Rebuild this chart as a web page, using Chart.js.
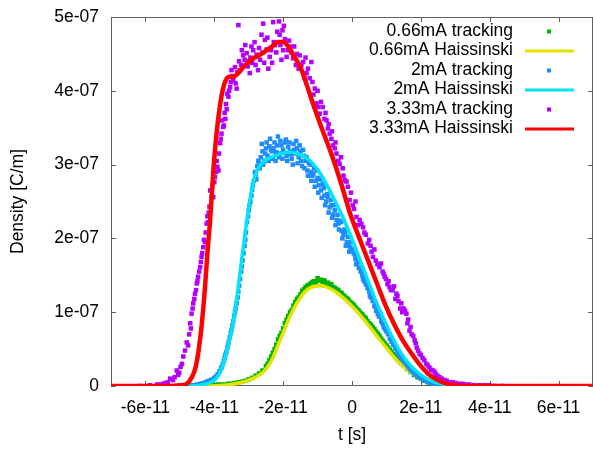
<!DOCTYPE html>
<html>
<head>
<meta charset="utf-8">
<script src="https://cdn.jsdelivr.net/npm/chart.js@4"></script>
<style>
  body { margin: 0; background: #fff; }
  #wrap { width: 593px; height: 449px; }
</style>
</head>
<body>
<div id="wrap"><canvas id="myChart" width="593" height="449"></canvas></div>
<script>
// t in units of 1e-11 s, density in units of 1e-07 C/m
var xTickVals = [-6, -4, -2, 0, 2, 4, 6];
var xTickLabels = ['-6e-11', '-4e-11', '-2e-11', '0', '2e-11', '4e-11', '6e-11'];
var yTickVals = [0, 1, 2, 3, 4, 5];
var yTickLabels = ['0', '1e-07', '2e-07', '3e-07', '4e-07', '5e-07'];

var seriesNames = ['0.66mA tracking', '0.66mA Haissinski', '2mA tracking',
                   '2mA Haissinski', '3.33mA tracking', '3.33mA Haissinski'];

// 0.66mA tracking points
var track066 = [
  [-4.6,0.00],[-4.5,0.00],[-4.4,0.01],[-4.3,0.00],[-4.2,0.01],[-4.1,0.01],[-4.0,0.01],
  [-3.9,0.02],[-3.8,0.02],[-3.7,0.02],[-3.6,0.03],[-3.5,0.03],[-3.4,0.04],[-3.3,0.05],
  [-3.2,0.06],[-3.1,0.07],[-3.0,0.09],[-2.9,0.11],[-2.8,0.14],[-2.7,0.17],[-2.6,0.21],
  [-2.5,0.27],[-2.45,0.30],[-2.4,0.35],[-2.35,0.40],[-2.3,0.45],[-2.25,0.50],[-2.2,0.56],
  [-2.15,0.63],[-2.1,0.68],[-2.05,0.72],[-2.0,0.78],[-1.95,0.85],[-1.9,0.90],[-1.85,0.95],
  [-1.8,1.00],[-1.75,1.03],[-1.7,1.09],[-1.65,1.14],[-1.6,1.18],[-1.55,1.20],[-1.5,1.24],
  [-1.45,1.29],[-1.4,1.31],[-1.35,1.34],[-1.3,1.36],[-1.25,1.37],[-1.2,1.39],[-1.15,1.41],
  [-1.1,1.42],[-1.05,1.40],[-1.0,1.46],[-0.95,1.43],[-0.9,1.44],[-0.85,1.41],[-0.8,1.43],
  [-0.75,1.38],[-0.7,1.40],[-0.65,1.36],[-0.6,1.38],[-0.55,1.34],[-0.5,1.33],[-0.45,1.31],
  [-0.4,1.30],[-0.35,1.27],[-0.3,1.26],[-0.25,1.23],[-0.2,1.21],[-0.15,1.19],[-0.1,1.17],
  [-0.05,1.14],[0.0,1.12],[0.05,1.10],[0.1,1.07],[0.15,1.04],[0.2,1.02],[0.25,0.99],
  [0.3,0.97],[0.35,0.94],[0.4,0.92],[0.45,0.88],[0.5,0.85],[0.55,0.83],[0.6,0.80],
  [0.65,0.77],[0.7,0.74],[0.75,0.71],[0.8,0.68],[0.85,0.64],[0.9,0.61],[0.95,0.58],
  [1.0,0.55],[1.05,0.52],[1.1,0.49],[1.15,0.46],[1.2,0.43],[1.25,0.41],[1.3,0.38],
  [1.35,0.35],[1.4,0.32],[1.45,0.30],[1.5,0.28],[1.6,0.23],[1.7,0.19],[1.8,0.15],
  [1.9,0.12],[2.0,0.10],[2.1,0.07],[2.2,0.05],[2.3,0.04],[2.4,0.03],[2.5,0.02],
  [2.6,0.01],[2.7,0.01],[2.8,0.00],[2.9,0.00]
];

// 0.66mA Haissinski solution
var hais066 = [
  [-7,0],[-4.1,0],[-3.5,0.02],[-3.2,0.05],[-3.0,0.08],[-2.8,0.12],[-2.6,0.18],[-2.45,0.26],
  [-2.3,0.38],[-2.15,0.55],[-2.0,0.72],[-1.85,0.89],[-1.7,1.04],[-1.55,1.16],[-1.4,1.26],
  [-1.25,1.32],[-1.1,1.35],[-0.95,1.36],[-0.8,1.35],[-0.6,1.31],[-0.4,1.25],[-0.2,1.17],
  [0.0,1.08],[0.2,0.98],[0.4,0.87],[0.6,0.75],[0.8,0.63],[1.0,0.52],[1.2,0.40],[1.4,0.30],
  [1.6,0.22],[1.8,0.16],[2.0,0.11],[2.2,0.06],[2.45,0.03],[2.8,0.005],[3.1,0],[7,0]
];

// 2mA tracking points
var track2 = [
  [-5.0,0.00],[-4.8,0.01],[-4.6,0.01],[-4.5,0.02],[-4.4,0.03],[-4.3,0.04],[-4.2,0.06],
  [-4.1,0.08],[-4.0,0.11],[-3.9,0.16],[-3.8,0.24],[-3.75,0.30],[-3.7,0.38],[-3.65,0.46],
  [-3.6,0.55],[-3.55,0.66],[-3.5,0.76],[-3.45,0.88],[-3.4,1.00],[-3.35,1.12],[-3.3,1.28],
  [-3.25,1.45],[-3.2,1.62],[-3.15,1.80],[-3.1,1.98],[-3.05,2.22],[-3.0,2.38],[-2.95,2.50],
  [-2.9,2.66],[-2.85,2.78],[-2.8,2.85],[-2.75,2.98],[-2.7,3.02],[-2.65,3.10],[-2.6,3.18],
  [-2.55,3.05],[-2.5,3.22],[-2.45,3.12],[-2.4,3.25],[-2.35,3.20],[-2.3,3.08],[-2.25,3.30],
  [-2.2,3.17],[-2.15,3.38],[-2.1,3.15],[-2.05,3.26],[-2.0,3.20],[-1.95,3.30],[-1.9,3.12],
  [-1.85,3.24],[-1.8,3.18],[-1.75,3.08],[-1.7,3.28],[-1.65,3.15],[-1.6,3.22],[-1.55,3.10],
  [-1.5,3.18],[-1.45,2.98],[-1.4,3.12],[-1.35,3.05],[-1.3,2.92],[-1.25,3.02],[-1.2,2.90],
  [-1.15,2.85],[-1.1,2.95],[-1.05,2.78],[-1.0,2.82],[-0.95,2.72],[-0.9,2.65],[-0.85,2.74],
  [-0.8,2.58],[-0.75,2.50],[-0.7,2.56],[-0.65,2.42],[-0.6,2.45],[-0.55,2.32],[-0.5,2.38],
  [-0.45,2.25],[-0.4,2.20],[-0.35,2.24],[-0.3,2.10],[-0.25,2.05],[-0.2,2.08],[-0.15,1.95],
  [-0.1,1.92],[-0.05,1.88],[0.0,1.85],[0.05,1.80],[0.1,1.72],[0.15,1.66],[0.2,1.60],
  [0.25,1.55],[0.3,1.50],[0.35,1.42],[0.4,1.38],[0.45,1.33],[0.5,1.28],[0.55,1.20],
  [0.6,1.15],[0.65,1.08],[0.7,1.02],[0.75,0.98],[0.8,0.94],[0.85,0.88],[0.9,0.84],
  [0.95,0.78],[1.0,0.74],[1.1,0.64],[1.2,0.56],[1.3,0.48],[1.4,0.40],[1.5,0.34],
  [1.6,0.28],[1.7,0.22],[1.8,0.18],[1.9,0.14],[2.0,0.11],[2.1,0.08],[2.2,0.06],
  [2.3,0.04],[2.4,0.03],[2.5,0.02],[2.6,0.01],[2.8,0.01],[3.0,0.00],[3.2,0.00],
  [-4.9,0.00],[-4.7,0.01],[-4.35,0.03],[-4.25,0.05],[-4.15,0.07],[-4.05,0.09],[-3.95,0.13],
  [-3.85,0.20],[-3.78,0.26],[-3.72,0.34],[-3.68,0.42],[-3.62,0.52],[-3.58,0.60],[-3.52,0.72],
  [-3.48,0.82],[-3.42,0.95],[-3.38,1.05],[-3.32,1.20],[-3.28,1.36],[-3.22,1.55],[-3.18,1.70],
  [-3.12,1.90],[-3.08,2.08],[-3.02,2.30],[-2.98,2.45],[-2.92,2.58],[-2.88,2.72],[-2.82,2.90],
  [-2.78,2.80],[-2.72,3.05],[-2.68,2.95],[-2.62,3.28],[-2.58,3.00],[-2.52,3.15],[-2.48,3.30],
  [-2.42,3.05],[-2.38,3.35],[-2.32,3.18],[-2.28,3.22],[-2.22,3.05],[-2.18,3.26],[-2.12,3.10],
  [-2.08,3.32],[-2.02,3.08],[-1.98,3.16],[-1.92,3.34],[-1.88,3.05],[-1.82,3.30],[-1.78,3.14],
  [-1.72,3.00],[-1.68,3.20],[-1.62,3.32],[-1.58,3.02],[-1.52,3.26],[-1.48,3.05],[-1.42,3.20],
  [-1.38,2.95],[-1.32,3.10],[-1.28,2.85],[-1.22,3.00],[-1.18,2.78],[-1.12,2.88],[-1.08,2.70],
  [-1.02,2.92],[-0.98,2.62],[-0.92,2.80],[-0.88,2.55],[-0.82,2.68],[-0.78,2.45],[-0.72,2.60],
  [-0.68,2.35],[-0.62,2.52],[-0.58,2.28],[-0.52,2.45],[-0.48,2.18],[-0.42,2.32],[-0.38,2.12],
  [-0.32,2.22],[-0.28,2.00],[-0.22,2.12],[-0.18,1.90],[-0.12,2.02],[-0.08,1.82],[-0.02,1.95],
  [0.08,1.78],[0.12,1.65],[0.18,1.68],[0.28,1.56],[0.32,1.45],[0.38,1.46],[0.48,1.32],
  [0.52,1.22],[0.58,1.25],[0.68,1.10],[0.72,1.05],[0.78,0.95],[0.88,0.86],[0.92,0.80],
  [0.98,0.76],[1.05,0.70],[1.15,0.60],[1.25,0.52],[1.35,0.44],[1.45,0.37],[1.55,0.31],
  [1.65,0.25],[1.75,0.20],[1.85,0.16],[1.95,0.12],[2.05,0.10],[2.15,0.07],[2.25,0.05],
  [2.35,0.04],[2.45,0.02],[2.7,0.01],[2.9,0.01],[3.1,0.00]
];

// 2mA Haissinski solution
var hais2 = [
  [-7,0],[-4.6,0],[-4.3,0.02],[-4.1,0.05],[-3.95,0.10],[-3.82,0.20],[-3.72,0.33],[-3.62,0.50],
  [-3.52,0.70],[-3.42,0.95],[-3.32,1.28],[-3.22,1.65],[-3.12,2.02],[-3.02,2.35],[-2.92,2.64],
  [-2.82,2.84],[-2.7,2.97],[-2.55,3.05],[-2.35,3.10],[-2.1,3.14],[-1.85,3.17],[-1.6,3.15],
  [-1.35,3.10],[-1.15,3.02],[-0.95,2.90],[-0.75,2.74],[-0.55,2.56],[-0.3,2.32],[-0.07,2.07],
  [0.2,1.75],[0.42,1.48],[0.65,1.20],[0.9,0.93],[1.15,0.68],[1.38,0.48],[1.62,0.32],
  [1.87,0.20],[2.1,0.12],[2.35,0.06],[2.6,0.03],[2.85,0.01],[3.1,0],[7,0]
];

// 3.33mA tracking points
var track333 = [
  [-6.15,0.00],[-5.87,0.01],[-5.66,0.02],[-5.48,0.03],[-5.35,0.05],[-5.28,0.10],[-5.20,0.08],
  [-5.09,0.21],[-5.02,0.18],[-4.94,0.30],[-4.85,0.48],[-4.80,0.59],[-4.76,0.55],[-4.70,0.85],
  [-4.66,0.98],[-4.61,1.12],[-4.56,1.25],[-4.51,1.39],[-4.47,1.48],[-4.41,1.61],[-4.37,1.75],
  [-4.32,1.88],[-4.27,1.95],[-4.22,2.20],[-4.18,2.22],[-4.14,2.43],[-4.12,2.65],[-4.03,2.56],
  [-3.98,2.83],[-3.91,2.97],[-3.88,2.92],[-3.83,3.29],[-3.79,3.42],[-3.74,3.51],[-3.72,3.53],
  [-3.64,3.75],[-3.62,3.96],[-3.59,3.92],[-3.54,4.05],[-3.50,4.28],[-3.45,4.15],[-3.35,4.03],
  [-3.30,4.89],[-3.26,4.28],[-3.16,4.48],[-3.06,4.51],[-3.01,4.40],[-2.97,4.24],[-2.92,4.60],
  [-2.87,4.55],[-2.77,4.49],[-2.73,4.28],[-2.63,4.76],[-2.58,4.91],[-2.53,4.69],[-2.43,4.30],
  [-2.39,4.46],[-2.29,4.93],[-2.24,4.62],[-2.12,4.94],[-2.10,4.76],[-2.05,4.42],[-2.02,4.82],
  [-1.95,4.70],[-1.86,4.55],[-1.81,4.60],[-1.71,4.44],[-1.63,4.35],[-1.52,4.48],[-1.42,4.39],
  [-1.32,4.24],[-1.23,4.17],[-1.18,4.39],[-1.08,4.03],[-1.03,3.83],[-0.94,3.69],[-0.85,3.78],
  [-0.74,3.60],[-0.70,3.49],[-0.65,3.42],[-0.55,3.26],[-0.45,3.15],[-0.36,3.01],[-0.27,2.95],
  [-0.21,2.79],[-0.16,2.77],[-0.07,2.52],[0.02,2.45],[0.13,2.29],[0.22,2.25],[0.32,2.15],
  [0.40,2.05],[0.46,1.93],[0.54,1.90],[0.61,1.75],[0.69,1.70],[0.80,1.61],[0.89,1.55],
  [0.95,1.48],[1.03,1.38],[1.09,1.34],[1.18,1.30],[1.29,1.25],[1.35,1.15],[1.43,1.12],
  [1.50,1.05],[1.58,0.98],[1.61,0.85],[1.67,0.75],[1.73,0.70],[1.82,0.62],[1.88,0.52],
  [1.96,0.44],[2.05,0.38],[2.16,0.30],[2.25,0.25],[2.35,0.21],[2.43,0.16],[2.54,0.12],
  [2.69,0.08],[2.83,0.05],[3.01,0.04],[3.22,0.03],[3.41,0.02],[3.70,0.01],[3.99,0.01],
  [4.37,0.00],
  [-5.55,0.02],[-5.42,0.04],[-5.15,0.12],[-5.05,0.15],[-4.98,0.26],[-4.90,0.40],[-4.73,0.70],
  [-4.68,0.78],[-4.63,1.05],[-4.58,1.18],[-4.53,1.30],[-4.49,1.42],[-4.44,1.55],[-4.39,1.68],
  [-4.35,1.80],[-4.30,1.98],[-4.25,2.08],[-4.20,2.30],[-4.16,2.35],[-4.08,2.55],[-4.06,2.70],
  [-4.00,2.76],[-3.95,2.90],[-3.93,3.05],[-3.86,3.15],[-3.81,3.35],[-3.77,3.60],[-3.70,3.70],
  [-3.68,3.62],[-3.66,3.82],[-3.57,4.00],[-3.52,4.12],[-3.48,4.20],[-3.40,4.32],[-3.38,4.10],
  [-3.33,4.25],[-3.28,4.40],[-3.22,4.35],[-3.20,4.55],[-3.12,4.42],[-3.10,4.62],[-3.03,4.33],
  [-2.95,4.45],[-2.90,4.38],[-2.83,4.66],[-2.80,4.35],[-2.70,4.58],[-2.67,4.42],[-2.60,4.52],
  [-2.55,4.38],[-2.48,4.56],[-2.46,4.72],[-2.35,4.55],[-2.32,4.38],[-2.27,4.66],[-2.20,4.52],
  [-2.17,4.80],[-2.08,4.62],[-2.00,4.55],[-1.98,4.88],[-1.90,4.46],[-1.83,4.68],[-1.76,4.52],
  [-1.68,4.60],[-1.60,4.50],[-1.55,4.30],[-1.47,4.35],[-1.38,4.18],[-1.35,4.45],[-1.28,4.30],
  [-1.15,4.12],[-1.12,3.95],[-1.00,4.00],[-0.98,3.78],[-0.90,3.85],[-0.80,3.62],[-0.77,3.70],
  [-0.68,3.55],[-0.60,3.35],[-0.58,3.45],[-0.50,3.22],[-0.48,3.30],[-0.40,3.05],[-0.32,3.10],
  [-0.25,2.85],[-0.12,2.70],[-0.03,2.62],[0.06,2.40],[0.10,2.50],[0.18,2.18],[0.27,2.20],
  [0.36,2.08],[0.50,1.98],[0.57,1.82],[0.65,1.85],[0.74,1.65],[0.84,1.66],[0.92,1.52],
  [0.99,1.45],[1.06,1.42],[1.13,1.30],[1.22,1.35],[1.26,1.18],[1.32,1.22],[1.40,1.05],
  [1.46,1.00],[1.54,1.02],[1.63,0.90],[1.70,0.80],[1.78,0.68],[1.85,0.58],[1.92,0.48],
  [2.00,0.42],[2.10,0.35],[2.20,0.28],[2.30,0.22],[2.40,0.19],[2.48,0.14],[2.60,0.10],
  [2.75,0.07],[2.92,0.05],[3.10,0.03],[3.30,0.02],[3.55,0.01],[3.85,0.01],[4.15,0.00]
];

// 3.33mA Haissinski solution
var hais333 = [
  [-7,0],[-5.3,0],[-5.0,0.01],[-4.8,0.03],[-4.65,0.12],[-4.55,0.24],[-4.45,0.50],[-4.35,0.90],
  [-4.27,1.34],[-4.2,1.80],[-4.12,2.25],[-4.03,2.90],[-3.95,3.35],[-3.85,3.75],[-3.75,4.02],
  [-3.65,4.16],[-3.55,4.19],[-3.45,4.19],[-3.35,4.22],[-3.25,4.27],[-3.1,4.35],[-2.9,4.43],
  [-2.7,4.48],[-2.5,4.54],[-2.3,4.61],[-2.15,4.66],[-2.0,4.66],[-1.85,4.60],[-1.7,4.48],
  [-1.5,4.32],[-1.3,4.06],[-1.1,3.78],[-0.9,3.52],[-0.55,3.08],[-0.3,2.72],[-0.05,2.33],
  [0.2,2.02],[0.45,1.72],[0.7,1.42],[0.95,1.12],[1.2,0.86],[1.45,0.64],[1.7,0.46],
  [1.95,0.30],[2.2,0.17],[2.45,0.09],[2.7,0.04],[3.0,0.01],[3.3,0],[7,0]
];

var colors = ['#00b400', '#e4e400', '#1e8cff', '#00e4f4', '#b400ff', '#ff0000'];

function toXY(arr) {
  return arr.map(function(p) { return { x: p[0], y: p[1] }; });
}

var FONT = '"Liberation Sans", Arial, sans-serif';
var FSIZE = 17.5;

// gnuplot style border, inward ticks, and key
var framePlugin = {
  id: 'frame',
  beforeDatasetsDraw: function(chart) {
    var ctx = chart.ctx, a = chart.chartArea;
    var xs = chart.scales.x, ys = chart.scales.y;
    ctx.save();
    ctx.strokeStyle = '#606060';
    ctx.lineWidth = 1;
    ctx.beginPath();
    ctx.rect(a.left + 0.5, a.top + 0.5, a.right - a.left - 1, a.bottom - a.top - 1);
    xTickVals.forEach(function(v) {
      var px = Math.round(xs.getPixelForValue(v)) + 0.5;
      ctx.moveTo(px, a.bottom); ctx.lineTo(px, a.bottom - 5);
      ctx.moveTo(px, a.top); ctx.lineTo(px, a.top + 5);
    });
    yTickVals.forEach(function(v) {
      var py = Math.round(ys.getPixelForValue(v)) + 0.5;
      ctx.moveTo(a.left, py); ctx.lineTo(a.left + 5, py);
      ctx.moveTo(a.right, py); ctx.lineTo(a.right - 5, py);
    });
    ctx.stroke();
    ctx.restore();
  },
  afterDraw: function(chart) {
    var ctx = chart.ctx;
    ctx.save();
    ctx.font = FSIZE + 'px ' + FONT;
    ctx.textAlign = 'right';
    ctx.textBaseline = 'middle';
    for (var i = 0; i < seriesNames.length; i++) {
      var y = 31 + i * 19.5;
      ctx.fillStyle = '#000';
      ctx.fillText(seriesNames[i], 513, y);
      ctx.fillStyle = colors[i];
      if (i % 2 === 0) {
        ctx.fillRect(547, y - 1.5, 4, 4);
      } else {
        ctx.strokeStyle = colors[i];
        ctx.lineWidth = 3;
        ctx.beginPath();
        ctx.moveTo(525, y + 0.5);
        ctx.lineTo(574, y + 0.5);
        ctx.stroke();
      }
    }
    ctx.restore();
  }
};

function pointSet(i, arr, ord) {
  return {
    label: seriesNames[i],
    data: toXY(arr),
    backgroundColor: colors[i],
    borderColor: colors[i],
    pointStyle: 'rect',
    pointRadius: 3.2,
    pointBorderWidth: 0,
    showLine: false,
    order: ord
  };
}

function lineSet(i, arr, w, ord) {
  return {
    label: seriesNames[i],
    data: toXY(arr),
    borderColor: colors[i],
    backgroundColor: colors[i],
    borderWidth: w,
    pointRadius: 0,
    showLine: true,
    cubicInterpolationMode: 'monotone',
    order: ord
  };
}

var ctx = document.getElementById('myChart').getContext('2d');
var myChart = new Chart(ctx, {
  type: 'scatter',
  data: {
    datasets: [
      pointSet(0, track066, 5),
      lineSet(1, hais066, 3.5, 4),
      pointSet(2, track2, 3),
      lineSet(3, hais2, 3.5, 2),
      pointSet(4, track333, 1),
      lineSet(5, hais333, 4.5, 0)
    ]
  },
  options: {
    responsive: false,
    animation: false,
    layout: { autoPadding: false, padding: { top: 17, right: 0, left: 0, bottom: 0 } },
    plugins: {
      legend: { display: false },
      tooltip: { enabled: false }
    },
    scales: {
      x: {
        type: 'linear',
        min: -7,
        max: 7,
        afterBuildTicks: function(scale) {
          scale.ticks = xTickVals.map(function(v) { return { value: v }; });
        },
        afterFit: function(scale) {
          scale.height = 63;
          scale.paddingLeft = 0;
          scale.paddingRight = 0;
        },
        grid: { display: false, drawTicks: false },
        border: { display: false },
        ticks: {
          autoSkip: false,
          maxRotation: 0,
          padding: 12,
          color: '#000',
          font: { family: FONT, size: FSIZE },
          callback: function(v) { return xTickLabels[xTickVals.indexOf(v)]; }
        },
        title: {
          display: true,
          text: 't [s]',
          color: '#000',
          font: { family: FONT, size: FSIZE },
          padding: { top: 0, bottom: 3.5 }
        }
      },
      y: {
        type: 'linear',
        min: 0,
        max: 5,
        afterBuildTicks: function(scale) {
          scale.ticks = yTickVals.map(function(v) { return { value: v }; });
        },
        afterFit: function(scale) {
          scale.width = 111;
          scale.paddingTop = 0;
          scale.paddingBottom = 0;
        },
        grid: { display: false, drawTicks: false },
        border: { display: false },
        ticks: {
          autoSkip: false,
          padding: 12,
          color: '#000',
          font: { family: FONT, size: FSIZE },
          callback: function(v) { return yTickLabels[yTickVals.indexOf(v)]; }
        },
        title: {
          display: true,
          text: 'Density [C/m]',
          color: '#000',
          font: { family: FONT, size: FSIZE },
          padding: { top: 7.5, bottom: 0 }
        }
      }
    }
  },
  plugins: [framePlugin]
});
</script>
</body>
</html>
